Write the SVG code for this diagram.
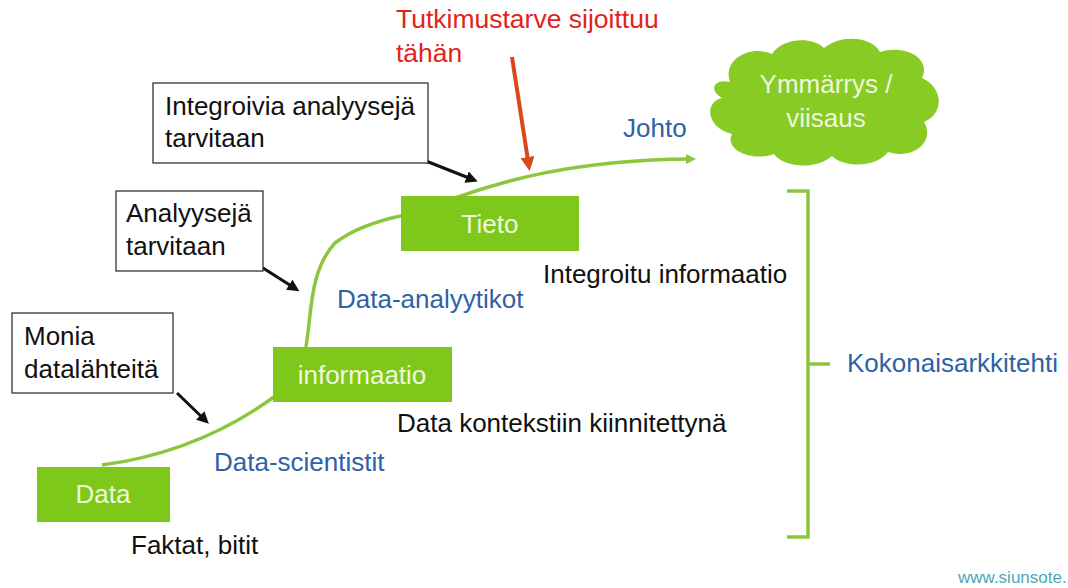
<svg xmlns="http://www.w3.org/2000/svg" width="1068" height="588" viewBox="0 0 1068 588">
<style>
  text { font-family: "Liberation Sans", Arial, sans-serif; }
  .box { fill: #7ec81c; }
  .boxtxt { fill: #eef8dc; font-size: 26px; text-anchor: middle; }
  .call { fill: #ffffff; stroke: #222222; stroke-width: 1.2; }
  .calltxt { fill: #111111; font-size: 26px; }
  .blue { fill: #2d62a6; font-size: 26px; }
  .black { fill: #111111; font-size: 26px; }
  .curve { fill: none; stroke: #8cc63f; stroke-width: 3.5; }
  .ptr { stroke: #111111; stroke-width: 3; fill: none; }
  .bracket { fill: none; stroke: #8cc63f; stroke-width: 3.5; }
</style>
<defs>
  <marker id="ga" markerWidth="10" markerHeight="10" refX="6" refY="5" orient="auto" markerUnits="userSpaceOnUse" viewBox="0 0 10 10">
    <path d="M0,0 L10,5 L0,10 z" fill="#8cc63f"/>
  </marker>
  <marker id="ba" markerWidth="12" markerHeight="12" refX="8" refY="6" orient="auto" markerUnits="userSpaceOnUse" viewBox="0 0 12 12">
    <path d="M0,0 L12,6 L0,12 z" fill="#111111"/>
  </marker>
  <marker id="ra" markerWidth="14" markerHeight="14" refX="10" refY="7" orient="auto" markerUnits="userSpaceOnUse" viewBox="0 0 14 14">
    <path d="M0,0 L14,7 L0,14 z" fill="#d8481e"/>
  </marker>
</defs>

<g id="connectors">
  <path class="curve" d="M102 465 Q200 452 278 394 L305 352 C312 318 308 272 335 243 Q360 224 405 215 L455 198 C500 182 570 160 692 159" marker-end="url(#ga)"/>
  <line x1="512" y1="57" x2="529" y2="167" stroke="#d8481e" stroke-width="4" marker-end="url(#ra)"/>
  <line class="ptr" x1="426" y1="161" x2="474" y2="180" marker-end="url(#ba)"/>
  <line class="ptr" x1="263" y1="268" x2="296" y2="289" marker-end="url(#ba)"/>
  <line class="ptr" x1="177" y1="393" x2="206" y2="421" marker-end="url(#ba)"/>
</g>

<g id="cloud">
  <path fill="#87cb24" d="M730 82 C722 60 750 44 772 54 C782 38 812 36 824 48 C840 34 872 36 880 52 C904 44 932 58 922 78 C944 88 944 114 924 122 C936 142 912 160 888 152 C876 168 844 168 832 156 C816 170 784 168 774 154 C752 162 724 150 732 134 C706 128 704 102 722 98 C708 90 714 78 730 82 Z"/>
  <text class="boxtxt" x="826" y="93">Ymmärrys /</text>
  <text class="boxtxt" x="826" y="127">viisaus</text>
</g>

<g id="node-data">
  <rect class="box" x="37" y="467" width="133" height="55"/>
  <text class="boxtxt" x="103" y="503">Data</text>
</g>
<g id="node-informaatio">
  <rect class="box" x="273" y="347" width="179" height="55"/>
  <text class="boxtxt" x="362" y="384">informaatio</text>
</g>
<g id="node-tieto">
  <rect class="box" x="401" y="196" width="178" height="55"/>
  <text class="boxtxt" x="490" y="233">Tieto</text>
</g>

<g id="callout-integroivia">
  <rect class="call" x="153" y="83" width="275" height="80"/>
  <text class="calltxt" x="165" y="115">Integroivia analyysejä</text>
  <text class="calltxt" x="165" y="147">tarvitaan</text>
</g>
<g id="callout-analyyseja">
  <rect class="call" x="116" y="191" width="147" height="80"/>
  <text class="calltxt" x="126" y="222">Analyysejä</text>
  <text class="calltxt" x="126" y="255">tarvitaan</text>
</g>
<g id="callout-monia">
  <rect class="call" x="12" y="313" width="161" height="80"/>
  <text class="calltxt" x="24" y="345">Monia</text>
  <text class="calltxt" x="24" y="378">datalähteitä</text>
</g>

<g id="labels">
  <text x="396" y="28" fill="#e2231a" font-size="26.5">Tutkimustarve sijoittuu</text>
  <text x="396" y="62" fill="#e2231a" font-size="26.5">tähän</text>
  <text class="blue" x="623" y="137">Johto</text>
  <text class="blue" x="337" y="308">Data-analyytikot</text>
  <text class="blue" x="214" y="471">Data-scientistit</text>
  <text class="black" x="543" y="283">Integroitu informaatio</text>
  <text class="black" x="397" y="432">Data kontekstiin kiinnitettynä</text>
  <text class="black" x="131" y="554">Faktat, bitit</text>
  <text class="blue" x="847" y="372">Kokonaisarkkitehti</text>
  <text x="958" y="583" fill="#4ea6b6" font-size="17">www.siunsote.</text>
</g>

<g id="bracket">
  <path class="bracket" d="M787 191 L808 191 L808 537 L787 537 M808 364 L830 364"/>
</g>
</svg>
